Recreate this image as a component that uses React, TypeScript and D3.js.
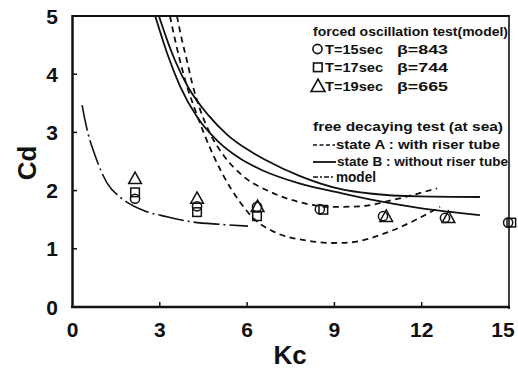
import React from "react";
import * as d3 from "d3";

const W = 518;
const H = 369;

const xTicks = [0, 3, 6, 9, 12, 15];
const yTicks = [0, 1, 2, 3, 4, 5];

// state B (solid) curves
const solidLowKc = [2.84, 3.08, 3.28, 3.69, 4.3, 4.99, 5.76, 6.52, 7.82, 9.19, 10.22, 11.94, 14.0];
const solidLowCd = [5.0, 4.62, 4.32, 3.8, 3.25, 2.85, 2.55, 2.35, 2.12, 1.96, 1.85, 1.7, 1.58];
const solidHighKc = [2.97, 3.25, 3.52, 3.97, 4.66, 5.34, 6.03, 6.62, 7.82, 9.19, 10.22, 11.94, 14.0];
const solidHighCd = [5.0, 4.59, 4.24, 3.78, 3.3, 2.95, 2.7, 2.53, 2.25, 2.03, 1.95, 1.9, 1.89];

// state A (dashed) curves
const dashShallowKc = [3.59, 3.76, 3.93, 4.11, 4.38, 4.73, 5.2, 5.86, 6.79, 7.82, 8.85, 9.88, 11.01, 12.53];
const dashShallowCd = [5.0, 4.59, 4.24, 3.85, 3.4, 2.98, 2.6, 2.25, 1.98, 1.8, 1.72, 1.73, 1.84, 2.04];
const dashDeepKc = [3.35, 3.52, 3.69, 3.93, 4.24, 4.52, 5.14, 5.76, 6.27, 6.89, 8.06, 8.95, 9.54, 10.91, 12.63];
const dashDeepCd = [5.0, 4.6, 4.24, 3.8, 3.35, 2.98, 2.3, 1.8, 1.5, 1.3, 1.14, 1.1, 1.11, 1.3, 1.72];

// model (dash-dot)
const modelKc = [0.33, 0.43, 0.53, 0.77, 1.19, 1.63, 1.91, 2.49, 3.25, 4.14, 5.07, 6.03];
const modelCd = [3.47, 3.21, 2.99, 2.61, 2.13, 1.89, 1.79, 1.65, 1.55, 1.46, 1.42, 1.39];

// forced oscillation test markers
const circleKc = [2.15, 4.28, 6.34, 8.5, 10.67, 12.8, 14.97];
const circleCd = [1.86, 1.73, 1.72, 1.68, 1.56, 1.53, 1.45];
const squareKc = [2.15, 4.28, 6.34, 8.62, 15.08];
const squareCd = [1.97, 1.63, 1.56, 1.67, 1.45];
const triangleKc = [2.15, 4.28, 6.36, 10.78, 12.92];
const triangleCd = [2.2, 1.86, 1.72, 1.55, 1.53];

const FONT = "'Liberation Sans', Arial, Helvetica, sans-serif";

export default function App() {
  const x = d3.scaleLinear().domain([0, 15]).range([72.5, 509]);
  const y = d3.scaleLinear().domain([0, 5]).range([307, 16]);

  const line = d3
    .line<[number, number]>()
    .x((d) => x(d[0]))
    .y((d) => y(d[1]))
    .curve(d3.curveMonotoneX);

  const zip = (a: number[], b: number[]) => a.map((v, i) => [v, b[i]] as [number, number]);

  const tri = (cx: number, cy: number, s: number) =>
    `M${cx},${cy - s * 0.62}L${cx + s * 0.58},${cy + s * 0.42}L${cx - s * 0.58},${cy + s * 0.42}Z`;

  const ink = "#111";

  return (
    <svg width={W} height={H} style={{ position: "absolute", left: 0, top: 0, background: "#fff" }}>
      <defs>
        <clipPath id="plot">
          <rect x={72.5} y={16} width={509 - 72.5} height={307 - 16} />
        </clipPath>
      </defs>
      <rect x={0} y={0} width={W} height={H} fill="#fff" />

      {/* frame */}
      <line x1={72.5} y1={15} x2={72.5} y2={308} stroke={ink} strokeWidth={2.5} />
      <line x1={71} y1={307} x2={510} y2={307} stroke={ink} strokeWidth={2.5} />
      <line x1={72} y1={16} x2={510} y2={16} stroke={ink} strokeWidth={2} />
      <line x1={509} y1={15} x2={509} y2={309} stroke={ink} strokeWidth={1.6} />

      {/* ticks */}
      {xTicks.slice(1, -1).map((t) => (
        <line key={"xt" + t} x1={x(t)} y1={307} x2={x(t)} y2={302} stroke={ink} strokeWidth={1.5} />
      ))}
      {yTicks.slice(1, -1).map((t) => (
        <line key={"yt" + t} x1={72.5} y1={y(t)} x2={77} y2={y(t)} stroke={ink} strokeWidth={1.5} />
      ))}

      {/* tick labels */}
      {xTicks.map((t, i) => (
        <text
          key={"xl" + t}
          x={x(t)}
          dx={i === xTicks.length - 1 ? -6 : 0}
          y={337}
          textAnchor="middle"
          fontFamily={FONT}
          fontWeight="bold"
          fontSize={21}
          fill={ink}
        >
          {t}
        </text>
      ))}
      {yTicks.map((t) => (
        <text key={"yl" + t} x={58} y={y(t) + 7.5} textAnchor="end" fontFamily={FONT} fontWeight="bold" fontSize={21} fill={ink}>
          {t}
        </text>
      ))}

      {/* axis titles */}
      <text x={290} y={364} textAnchor="middle" fontFamily={FONT} fontWeight="bold" fontSize={26} fill={ink}>
        Kc
      </text>
      <text
        transform="translate(36,163) rotate(-90)"
        textAnchor="middle"
        fontFamily={FONT}
        fontWeight="bold"
        fontSize={26}
        fill={ink}
      >
        Cd
      </text>

      {/* curves */}
      <g clipPath="url(#plot)" fill="none" stroke={ink}>
        <path d={line(zip(solidLowKc, solidLowCd)) || ""} strokeWidth={1.8} />
        <path d={line(zip(solidHighKc, solidHighCd)) || ""} strokeWidth={1.8} />
        <path d={line(zip(dashShallowKc, dashShallowCd)) || ""} strokeWidth={1.8} strokeDasharray="6,4.5" />
        <path d={line(zip(dashDeepKc, dashDeepCd)) || ""} strokeWidth={1.8} strokeDasharray="6,4.5" />
        <path d={line(zip(modelKc, modelCd)) || ""} strokeWidth={1.6} strokeDasharray="26,4,2,4" />
      </g>

      {/* markers */}
      <g fill="none" stroke={ink} strokeWidth={1.5}>
        {circleKc.map((k, i) => (
          <circle key={"c" + i} cx={x(k)} cy={y(circleCd[i])} r={4.6} />
        ))}
        {squareKc.map((k, i) => (
          <rect key={"s" + i} x={x(k) - 4.3} y={y(squareCd[i]) - 4.3} width={8.6} height={8.6} />
        ))}
        {triangleKc.map((k, i) => (
          <path key={"t" + i} d={tri(x(k), y(triangleCd[i]), 11)} />
        ))}
      </g>

      {/* legend */}
      <g fontFamily={FONT} fontWeight="bold" fontSize={13} fill={ink}>
        <text x={313} y={36} textLength={195} lengthAdjust="spacingAndGlyphs">
          forced oscillation test(model)
        </text>

        <circle cx={317.5} cy={49} r={4.6} fill="none" stroke={ink} strokeWidth={1.6} />
        <text x={325} y={53.5} textLength={58} lengthAdjust="spacingAndGlyphs">T=15sec</text>
        <text x={397} y={53.5} textLength={51} lengthAdjust="spacingAndGlyphs">β=843</text>

        <rect x={313.5} y={63} width={8.6} height={8.6} fill="none" stroke={ink} strokeWidth={1.6} />
        <text x={325} y={72} textLength={58} lengthAdjust="spacingAndGlyphs">T=17sec</text>
        <text x={397} y={72} textLength={51} lengthAdjust="spacingAndGlyphs">β=744</text>

        <path d={tri(318, 86.5, 12)} fill="none" stroke={ink} strokeWidth={1.6} />
        <text x={325} y={91} textLength={58} lengthAdjust="spacingAndGlyphs">T=19sec</text>
        <text x={397} y={91} textLength={51} lengthAdjust="spacingAndGlyphs">β=665</text>

        <text x={313} y={131} textLength={190} lengthAdjust="spacingAndGlyphs">
          free decaying test (at sea)
        </text>

        <line x1={313} y1={145} x2={335} y2={145} stroke={ink} strokeWidth={1.6} strokeDasharray="4,2.5" />
        <text x={336} y={149} textLength={164} lengthAdjust="spacingAndGlyphs">
          state A : with riser tube
        </text>

        <line x1={313} y1={162} x2={336} y2={162} stroke={ink} strokeWidth={1.8} />
        <text x={337} y={166} textLength={171} lengthAdjust="spacingAndGlyphs">
          state B : without riser tube
        </text>

        <line x1={313} y1={177} x2={334} y2={177} stroke={ink} strokeWidth={1.4} strokeDasharray="5,2,2,2" />
        <text x={336} y={182} fontSize={14} textLength={40} lengthAdjust="spacingAndGlyphs">
          model
        </text>
      </g>
    </svg>
  );
}
